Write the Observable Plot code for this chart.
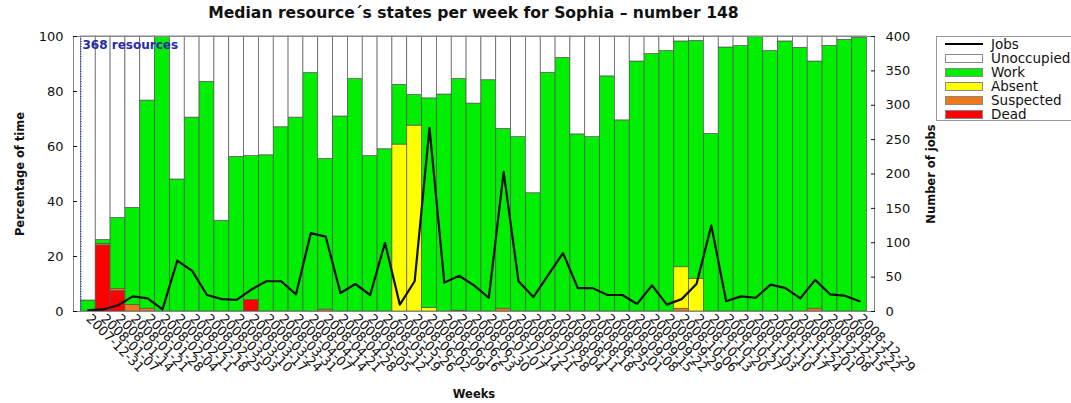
<!DOCTYPE html>
<html>
<head>
<meta charset="utf-8">
<script src="https://cdn.jsdelivr.net/npm/d3@7"></script>
<script src="https://cdn.jsdelivr.net/npm/@observablehq/plot@0.6"></script>
<style>
  html, body { margin: 0; padding: 0; background: #fff; overflow: hidden; }
  body { width: 1071px; height: 403px; position: relative; font-family: "DejaVu Sans", sans-serif; }
  #title { position: absolute; left: 0; width: 947px; top: 4px; text-align: center; font-weight: bold; font-size: 15.6px; color: #111; }
  #legend { position: absolute; left: 936px; top: 36px; width: 160px; height: 83px; border: 1px solid #999; background: #fff; }
  .row { position: absolute; left: 0; height: 14px; font-size: 13.5px; line-height: 14px; color: #111; white-space: nowrap; }
  .sw { position: absolute; left: 8px; top: 3px; width: 36px; height: 7px; border: 1px solid #888; }
  .ln { position: absolute; left: 8px; top: 6px; width: 38px; height: 2px; background: #000; }
  .lab { position: absolute; left: 54px; top: 0; }
  #chart { position: absolute; left: 0; top: 0; }
</style>
</head>
<body>
<div id="chart"></div>
<div id="title">Median resource´s states per week for Sophia – number 148</div>
<div id="legend"></div>
<script>
const weeks = ["2007-12-31","2008-01-07","2008-01-14","2008-01-21","2008-01-28","2008-02-04","2008-02-11","2008-02-18","2008-02-25","2008-03-03","2008-03-10","2008-03-17","2008-03-24","2008-03-31","2008-04-07","2008-04-14","2008-04-21","2008-04-28","2008-05-05","2008-05-12","2008-05-19","2008-05-26","2008-06-02","2008-06-09","2008-06-16","2008-06-23","2008-06-30","2008-07-07","2008-07-14","2008-07-21","2008-07-28","2008-08-04","2008-08-11","2008-08-18","2008-08-25","2008-09-01","2008-09-08","2008-09-15","2008-09-22","2008-09-29","2008-10-06","2008-10-13","2008-10-20","2008-10-27","2008-11-03","2008-11-10","2008-11-17","2008-11-24","2008-12-01","2008-12-08","2008-12-15","2008-12-22","2008-12-29"];

const dead       = [0,24,7.4,0,0,0,0,0,0,0,0,4.2,0,0,0,0,0,0,0,0,0,0,0,0,0,0,0,0,0,0,0,0,0,0,0,0,0,0,0,0,0,0,0,0,0,0,0,0,0,0,0,0,0];
const suspected  = [0,0.6,0.8,2.4,1,0,0,0,0,0,0,0,0,0,0,0,0.7,0,0,0,0,0,0,0,0,0.3,0,0,1,0,0,0,0,0,0,0,0,0,0,0,1,0,0,0,0,0,0,0,0,1,0,0,0];
const absent     = [0,0,0,0,0,0,0,0,0,0,0,0,0,0,0,0,0,0,0,0,0,60.7,67.6,1.3,0,0,0,0,0,0,0,0,0,0,0,0,0,0,0,0,15.1,11.9,0,0,0,0,0,0,0,0,0,0,0];
const work       = [4,1.4,25.8,35.3,75.7,100,48,70.5,83.5,33,56.2,52.3,56.8,67,70.5,86.7,54.8,70.9,84.5,56.5,59,21.7,11.1,76.2,78.9,84.2,75.6,84.1,65.4,63.4,43,86.8,92.2,64.4,63.4,85.5,69.5,90.9,93.6,94.7,82.1,86.5,64.6,96,96.5,100,94.7,98.2,95.9,89.9,96.6,98.8,99.5];
const unoccupied = [96,74,66,62.3,23.3,0,52,29.5,16.5,67,43.8,43.5,43.2,33,29.5,13.3,44.5,29.1,15.5,43.5,41,17.6,21.3,22.5,21.1,15.5,24.4,15.9,33.6,36.6,57,13.2,7.8,35.6,36.6,14.5,30.5,9.1,6.4,5.3,1.8,1.6,35.4,4,3.5,0,5.3,1.8,4.1,9.1,3.4,1.2,0.5];
const jobs       = [2,3,9,22,19,3,74,59,24,18,17,32,44,44,25,114,109,27,40,24,100,10,44,267,42,52,38,20,203,44,21,53,85,34,34,24,24,11,38,10,18,40,125,15,22,20,39,34,19,46,25,23,15];

const states = ["Dead","Suspected","Absent","Work","Unoccupied"];
const stateColors = ["#ff0000","#f07818","#ffff00","#00ee00","#ffffff"];
const jobTicks = [0,50,100,150,200,250,300,350,400];
const pctTicks = [0,20,40,60,80,100];
const resourcesNote = "368 resources";

const seriesByState = {Dead: dead, Suspected: suspected, Absent: absent, Work: work, Unoccupied: unoccupied};
const rows = weeks.flatMap((w, i) => states.map(s => ({week: w, state: s, value: seriesByState[s][i]}))).filter(d => d.value > 0);
const jobRows = weeks.map((w, i) => ({week: w, jobs: jobs[i]}));

const W = 1071, H = 403;
const mL = 73, mR = 197, mT = 36, mB = 92;
const band = (W - mL - mR) / (weeks.length + 1);

const chart = Plot.plot({
  width: W, height: H,
  marginLeft: mL, marginRight: mR, marginTop: mT, marginBottom: mB,
  style: {fontFamily: "'DejaVu Sans', sans-serif", fontSize: "13px", color: "#111", background: "white"},
  x: {type: "band", domain: weeks, paddingInner: 0, paddingOuter: 0.5},
  y: {domain: [0, 100]},
  color: {domain: states, range: stateColors},
  marks: [
    Plot.barY(rows, {x: "week", y: "value", fill: "state", stroke: "#555", strokeWidth: 0.7}),
    Plot.ruleX([weeks[0]], {dx: -band / 2, stroke: "#2233cc", strokeWidth: 1.2, strokeDasharray: "1,1.5"}),
    Plot.lineY(jobRows, {x: "week", y: d => d.jobs / 4, stroke: "#111", strokeWidth: 2.2}),
    Plot.frame({stroke: "#888"}),
    Plot.text([resourcesNote], {frameAnchor: "top-left", dx: 9, dy: 4, text: d => d, fill: "#2a2aa8", fontSize: 12, fontWeight: "bold", textAnchor: "start", lineAnchor: "top"}),
    Plot.axisY({ticks: pctTicks, tickSize: -4, tickPadding: 14, fontSize: 13, label: "Percentage of time", labelAnchor: "center", labelArrow: "none", labelOffset: 58}),
    Plot.axisY({anchor: "right", ticks: jobTicks.map(t => t / 4), tickFormat: t => t * 4, tickSize: -4, tickPadding: 15, fontSize: 13, label: "Number of jobs", labelAnchor: "center", labelArrow: "none", labelOffset: 60}),
    Plot.axisX({tickRotate: 45, tickSize: 0, tickPadding: 5, fontSize: 13, label: "Weeks", labelAnchor: "center", labelArrow: "none", labelOffset: 86})
  ]
});
chart.querySelectorAll("g[aria-label='y-axis label'] text, g[aria-label='x-axis label'] text").forEach(t => {
  t.setAttribute("font-weight", "bold");
  t.setAttribute("font-size", "11.5");
});
document.getElementById("chart").appendChild(chart);

// legend
const legend = document.getElementById("legend");
const items = [{label: "Jobs", line: true}].concat(states.slice().reverse().map(s => ({label: s, color: stateColors[states.indexOf(s)]})));
items.forEach((it, i) => {
  const r = document.createElement("div");
  r.className = "row";
  r.style.top = (i * 14) + "px";
  r.style.width = "200px";
  r.innerHTML = (it.line ? `<div class="ln"></div>` : `<div class="sw" style="background:${it.color}"></div>`) + `<span class="lab">${it.label}</span>`;
  legend.appendChild(r);
});
</script>
</body>
</html>
